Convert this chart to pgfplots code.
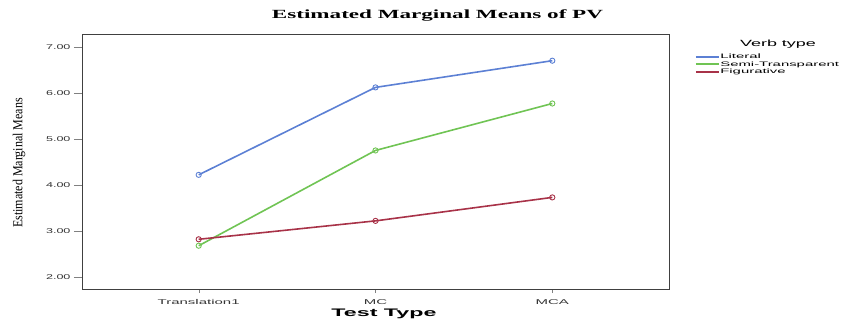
\documentclass[border=0pt]{standalone}
\usepackage{fontspec}
\setmainfont{Liberation Serif}
\newfontfamily\sansf{Liberation Sans}
\usepackage{graphicx}
\usepackage{pgfplots}
\pgfplotsset{compat=1.18}
\definecolor{litblue}{RGB}{92,128,212}
\definecolor{semigreen}{RGB}{112,196,84}
\definecolor{figred}{RGB}{168,50,72}
\newcommand{\legstr}[1]{\scalebox{2.3}[1]{#1}}
\newcommand{\xstr}[1]{\scalebox{2.15}[1]{#1}}
\begin{document}
\begin{tikzpicture}
\path[use as bounding box] (-82bp,-32bp) rectangle (773bp,289bp);
\begin{axis}[
  scale only axis,
  width=587bp, height=255bp,
  at={(0,0)}, anchor=south west,
  xmin=-0.66, xmax=2.66,
  ymin=1.74, ymax=7.28,
  xtick={0,1,2},
  xticklabels={\xstr{Translation1},\xstr{MC},\xstr{MCA}},
  ytick={2,3,4,5,6,7},
  yticklabel={\scalebox{1.8}[1]{\pgfmathprintnumber[fixed,fixed zerofill,precision=2]{\tick}}},
  /pgf/number format/assume math mode=true,
  tick label style={font=\sansf\fontsize{7}{8}\selectfont, text=black!80},
  xticklabel style={yshift=1bp},
  tick align=outside,
  xtick pos=bottom, ytick pos=left,
  major tick length=8bp,
  xtick style={/pgfplots/major tick length=4bp},
  axis line style={line width=0.8bp, black!75},
  clip=false,
  legend style={at={(rel axis cs:1.044,0.926)}, anchor=north west, draw=none, fill=none,
    font=\sansf\fontsize{6.5}{7}\selectfont, inner sep=0pt, row sep=0pt,
    nodes={inner sep=0.5bp, text height=5bp, text depth=1.5bp}},
  legend cell align=left,
  legend image code/.code={\draw[#1, line width=1.8bp] (0bp,0bp) -- (23bp,0bp);},
  every axis plot/.append style={line width=1.6bp, mark=o, mark size=2.6bp,
    mark options={line width=0.9bp}},
]
\addplot[litblue] coordinates {(0,4.22) (1,6.12) (2,6.70)};
\addlegendentry{\legstr{Literal}}
\addplot[semigreen] coordinates {(0,2.68) (1,4.75) (2,5.77)};
\addlegendentry{\legstr{Semi-Transparent}}
\addplot[figred] coordinates {(0,2.82) (1,3.22) (2,3.73)};
\addlegendentry{\legstr{Figurative}}
\end{axis}
\node at (355.5bp,274bp) {\resizebox{331bp}{\height}{\bfseries\fontsize{12.5}{15}\selectfont Estimated Marginal Means of PV}};
\node[rotate=90] at (-63bp,126bp) {\resizebox{130bp}{1.15\height}{\fontsize{12}{14}\selectfont Estimated Marginal Means}};
\node at (302bp,-25bp) {\resizebox{105bp}{\height}{\sansf\bfseries\fontsize{11}{13}\selectfont Test Type}};
\node at (696bp,245bp) {\resizebox{76bp}{\height}{\sansf\fontsize{9}{11}\selectfont Verb type}};
\end{tikzpicture}
\end{document}
